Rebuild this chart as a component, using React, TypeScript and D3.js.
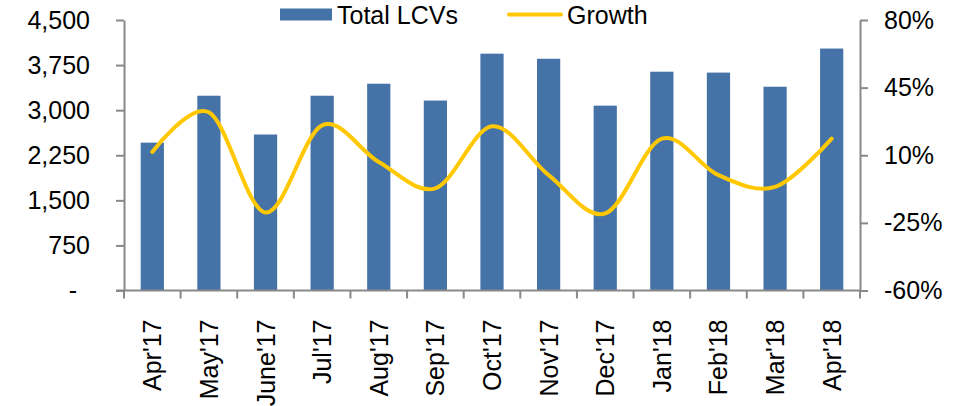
import React, { useEffect, useRef } from "react";
import * as d3 from "d3";

const months = [
  "Apr'17", "May'17", "June'17", "Jul'17", "Aug'17", "Sep'17", "Oct'17",
  "Nov'17", "Dec'17", "Jan'18", "Feb'18", "Mar'18", "Apr'18",
];
const totalLCVs = [2460, 3240, 2595, 3240, 3440, 3160, 3940, 3855, 3075, 3640, 3625, 3390, 4025];
const growth = [11.7, 32.2, -19.6, 25.5, 6.5, -7.1, 25.0, -0.3, -20.1, 18.6, -0.3, -6.4, 18.6];
const leftTicks = [0, 750, 1500, 2250, 3000, 3750, 4500];
const rightTicks = [-60, -25, 10, 45, 80];

const W = 964;
const H = 406;
const margin = { top: 20, right: 104, bottom: 115.5, left: 124 };
const FONT = "'Liberation Sans', Arial, sans-serif";
const BAR = "#4572A7";
const LINE = "#FFC800";
const AXIS = "#898989";

export default function App() {
  const ref = useRef<SVGSVGElement>(null);

  useEffect(() => {
    const svg = d3.select(ref.current);
    svg.selectAll("*").remove();

    const x = d3.scaleBand().domain(months).range([margin.left, W - margin.right]);
    const yL = d3.scaleLinear().domain([0, 4500]).range([H - margin.bottom, margin.top]);
    const yR = d3.scaleLinear().domain([-60, 80]).range([H - margin.bottom, margin.top]);
    const bw = x.bandwidth();
    const barW = bw * 0.41;

    // bars
    svg.append("g")
      .selectAll("rect")
      .data(totalLCVs)
      .enter()
      .append("rect")
      .attr("x", (d, i) => x(months[i])! + (bw - barW) / 2)
      .attr("width", barW)
      .attr("y", (d) => yL(d))
      .attr("height", (d) => yL(0) - yL(d))
      .attr("fill", BAR);

    // axes
    const styleAxis = (g: any) => {
      g.select(".domain").attr("stroke", AXIS).attr("stroke-width", 2);
      g.selectAll(".tick line").attr("stroke", AXIS).attr("stroke-width", 2);
      g.selectAll("text").attr("fill", "#000").attr("font-size", 25).attr("font-family", FONT);
    };

    const left = svg.append("g")
      .attr("transform", `translate(${margin.left},0)`)
      .call(
        d3.axisLeft(yL).tickValues(leftTicks).tickSize(8).tickSizeOuter(0).tickPadding(26)
          .tickFormat((d) => (d === 0 ? "-" : d3.format(",")(d as number)))
      );
    styleAxis(left);
    left.selectAll(".tick text").filter((d: any) => d === 0).attr("dx", -13);

    const right = svg.append("g")
      .attr("transform", `translate(${W - margin.right},0)`)
      .call(
        d3.axisRight(yR).tickValues(rightTicks).tickSize(8).tickSizeOuter(0).tickPadding(16)
          .tickFormat((d) => `${d}%`)
      );
    styleAxis(right);

    const bottomY = H - margin.bottom;
    const bottom = svg.append("g").attr("transform", `translate(0,${bottomY})`);
    bottom.append("line")
      .attr("x1", margin.left - 8).attr("x2", W - margin.right)
      .attr("stroke", AXIS).attr("stroke-width", 2);
    const edges = months.map((m) => x(m)!).concat([W - margin.right]);
    bottom.selectAll("line.tk")
      .data(edges)
      .enter()
      .append("line")
      .attr("class", "tk")
      .attr("x1", (d) => d).attr("x2", (d) => d)
      .attr("y1", 0).attr("y2", 8)
      .attr("stroke", AXIS).attr("stroke-width", 2);
    bottom.selectAll("text")
      .data(months)
      .enter()
      .append("text")
      .attr("transform", (d) => `translate(${x(d)! + bw / 2},29) rotate(-90)`)
      .attr("text-anchor", "end")
      .attr("dy", "0.36em")
      .attr("font-size", 25)
      .attr("font-family", FONT)
      .attr("fill", "#000")
      .text((d) => d);

    // growth line
    const line = d3.line<number>()
      .x((d, i) => x(months[i])! + bw / 2)
      .y((d) => yR(d))
      .curve(d3.curveCardinal.tension(0));
    svg.append("path")
      .attr("d", line(growth))
      .attr("fill", "none")
      .attr("stroke", LINE)
      .attr("stroke-width", 4)
      .attr("stroke-linecap", "round");

    // legend
    const lg = svg.append("g");
    lg.append("rect").attr("x", 280).attr("y", 8.5).attr("width", 52).attr("height", 12).attr("fill", BAR);
    lg.append("text").attr("x", 337).attr("y", 23.5).attr("font-size", 25).attr("font-family", FONT).text("Total LCVs");
    lg.append("line").attr("x1", 509).attr("x2", 561).attr("y1", 14.5).attr("y2", 14.5)
      .attr("stroke", LINE).attr("stroke-width", 4).attr("stroke-linecap", "round");
    lg.append("text").attr("x", 567).attr("y", 23.5).attr("font-size", 25).attr("font-family", FONT).text("Growth");
  }, []);

  return (
    <svg
      ref={ref}
      width={W}
      height={H}
      style={{ position: "absolute", left: 0, top: 0, background: "#fff" }}
    />
  );
}
